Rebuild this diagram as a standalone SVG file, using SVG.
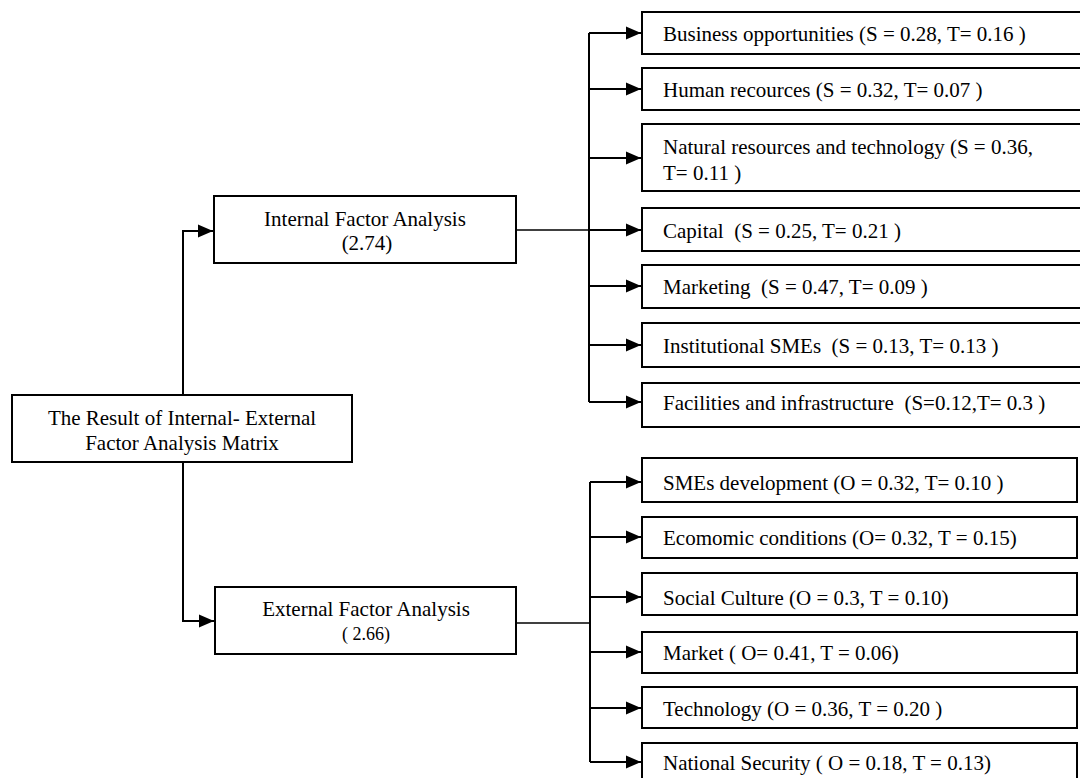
<svg xmlns="http://www.w3.org/2000/svg" width="1080" height="778" viewBox="0 0 1080 778">
<style>
.box{fill:#fff;stroke:#000;stroke-width:2}
.t{font-family:"Liberation Serif","Times New Roman",serif;font-size:21px;fill:#000;white-space:pre}
.c{text-anchor:middle}
.ln{fill:none;stroke:#000;stroke-width:2}
.thin{fill:none;stroke:#000;stroke-width:1.3}
</style>
<defs>
<marker id="ah" markerUnits="userSpaceOnUse" markerWidth="16" markerHeight="14" refX="15" refY="7" orient="auto">
<path d="M0,0.5 L15,7 L0,13.5 Z" fill="#000"/>
</marker>
</defs>
<rect width="1080" height="778" fill="#fff"/>
<g id="connectors">
<path class="ln" d="M183,394 V231 H213" marker-end="url(#ah)"/>
<path class="ln" d="M183,461 V621 H214" marker-end="url(#ah)"/>
<path class="thin" d="M516,230 H589"/>
<path class="thin" d="M516,623 H590"/>
<path class="ln" d="M589,33 V402"/>
<path class="ln" d="M589,33 H641" marker-end="url(#ah)"/>
<path class="ln" d="M589,89 H641" marker-end="url(#ah)"/>
<path class="ln" d="M589,158 H641" marker-end="url(#ah)"/>
<path class="ln" d="M589,230 H641" marker-end="url(#ah)"/>
<path class="ln" d="M589,286 H641" marker-end="url(#ah)"/>
<path class="ln" d="M589,345 H641" marker-end="url(#ah)"/>
<path class="ln" d="M589,402 H641" marker-end="url(#ah)"/>
<path class="ln" d="M590,482 V762"/>
<path class="ln" d="M590,482 H641" marker-end="url(#ah)"/>
<path class="ln" d="M590,537 H641" marker-end="url(#ah)"/>
<path class="ln" d="M590,597 H641" marker-end="url(#ah)"/>
<path class="ln" d="M590,652 H641" marker-end="url(#ah)"/>
<path class="ln" d="M590,708 H641" marker-end="url(#ah)"/>
<path class="ln" d="M590,762 H641" marker-end="url(#ah)"/>
</g>
<g id="root">
<rect class="box" x="12" y="395" width="340" height="67"/>
<text class="t c" x="182" y="425">The Result of Internal- External</text>
<text class="t c" x="182" y="450">Factor Analysis Matrix</text>
</g>
<g id="internal">
<rect class="box" x="214" y="196" width="302" height="67"/>
<text class="t c" x="365" y="226">Internal Factor Analysis</text>
<text class="t c" x="367" y="250">(2.74)</text>
</g>
<g id="external">
<rect class="box" x="215" y="587" width="301" height="67"/>
<text class="t c" x="366" y="616">External Factor Analysis</text>
<text class="t c" x="366" y="640" style="font-size:18px">( 2.66)</text>
</g>
<g id="i1"><rect class="box" x="642" y="12" width="445" height="42"/><text class="t" x="663" y="41">Business opportunities (S = 0.28, T= 0.16 )</text></g>
<g id="i2"><rect class="box" x="642" y="68" width="445" height="42"/><text class="t" x="663" y="97">Human recources (S = 0.32, T= 0.07 )</text></g>
<g id="i3"><rect class="box" x="642" y="124" width="445" height="67"/><text class="t" x="663" y="154">Natural resources and technology (S = 0.36,</text><text class="t" x="663" y="180">T= 0.11 )</text></g>
<g id="i4"><rect class="box" x="642" y="208" width="445" height="43"/><text class="t" x="663" y="238">Capital  (S = 0.25, T= 0.21 )</text></g>
<g id="i5"><rect class="box" x="642" y="265" width="445" height="43"/><text class="t" x="663" y="294">Marketing  (S = 0.47, T= 0.09 )</text></g>
<g id="i6"><rect class="box" x="642" y="323" width="445" height="44"/><text class="t" x="663" y="353">Institutional SMEs  (S = 0.13, T= 0.13 )</text></g>
<g id="i7"><rect class="box" x="642" y="383" width="445" height="44"/><text class="t" x="663" y="410">Facilities and infrastructure  (S=0.12,T= 0.3 )</text></g>
<g id="e1"><rect class="box" x="642" y="458" width="435" height="44"/><text class="t" x="663" y="490">SMEs development (O = 0.32, T= 0.10 )</text></g>
<g id="e2"><rect class="box" x="642" y="517" width="435" height="41"/><text class="t" x="663" y="545">Ecomomic conditions (O= 0.32, T = 0.15)</text></g>
<g id="e3"><rect class="box" x="642" y="573" width="435" height="42"/><text class="t" x="663" y="605">Social Culture (O = 0.3, T = 0.10)</text></g>
<g id="e4"><rect class="box" x="642" y="632" width="435" height="41"/><text class="t" x="663" y="660">Market ( O= 0.41, T = 0.06)</text></g>
<g id="e5"><rect class="box" x="642" y="687" width="435" height="41"/><text class="t" x="663" y="716">Technology (O = 0.36, T = 0.20 )</text></g>
<g id="e6"><rect class="box" x="642" y="743" width="435" height="50"/><text class="t" x="663" y="770">National Security ( O = 0.18, T = 0.13)</text></g>
</svg>
